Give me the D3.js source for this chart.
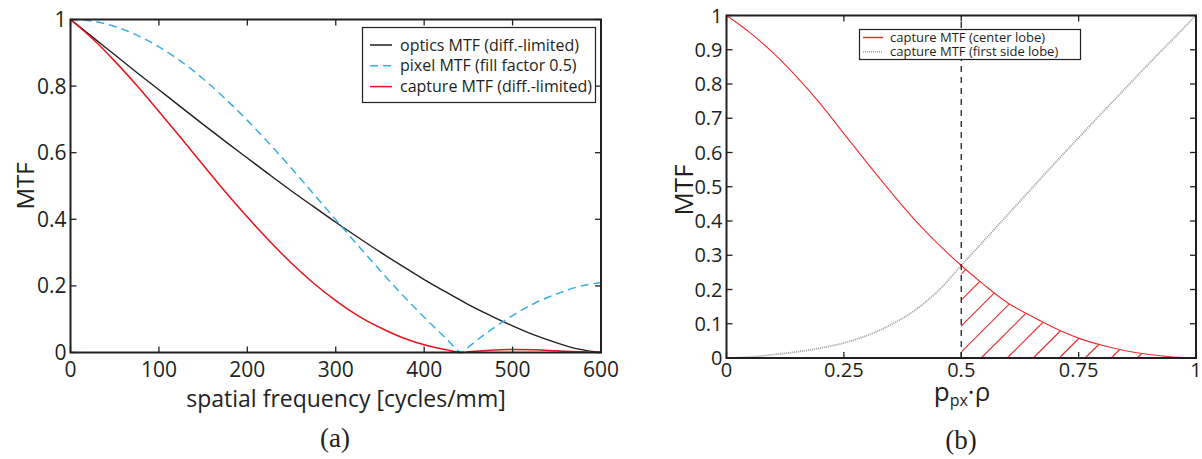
<!DOCTYPE html>
<html><head><meta charset="utf-8">
<script src="https://cdn.jsdelivr.net/npm/d3@7"></script>
<style>
body{margin:0;background:#fff}
svg{display:block}
text{font-family:"Open Sans",sans-serif;fill:#231f20}
</style>
</head><body>
<svg id="c" width="1202" height="459"></svg>
<script>
// ---------- panel (a) data ----------
const freqA = [0,25,50,75,100,125,150,175,200,225,250,275,300,325,350,375,400,425,443,450,475,500,525,550,575,600];
const opticsMTF = [1,0.947,0.894,0.841,0.789,0.737,0.685,0.634,0.584,0.534,0.485,0.438,0.391,0.346,0.302,0.260,0.219,0.181,0.154,0.144,0.111,0.080,0.052,0.029,0.010,0];
const pixelMTF = [1,0.995,0.979,0.953,0.918,0.874,0.822,0.762,0.697,0.627,0.553,0.476,0.399,0.322,0.247,0.174,0.106,0.042,0,0.016,0.067,0.111,0.148,0.176,0.198,0.210];
const captureMTF = [1,0.942,0.875,0.802,0.724,0.644,0.563,0.483,0.407,0.335,0.268,0.208,0.156,0.111,0.075,0.045,0.023,0.008,0,0.002,0.007,0.009,0.008,0.005,0.002,0];
const xTicksA = [0,100,200,300,400,500,600];
const yTicksA = [0,0.2,0.4,0.6,0.8,1];
const legendA = ["optics MTF (diff.-limited)","pixel MTF (fill factor 0.5)","capture MTF (diff.-limited)"];

// ---------- panel (b) data ----------
const uB = [0,0.05,0.1,0.15,0.2,0.25,0.3,0.35,0.4,0.45,0.5,0.55,0.6,0.65,0.7,0.75,0.8,0.85,0.9,0.95,1];
const centerLobe = [1,0.950,0.890,0.820,0.742,0.655,0.569,0.485,0.405,0.334,0.270,0.212,0.160,0.122,0.087,0.058,0.037,0.021,0.010,0.003,0];
const sideLobe = [0,0.003,0.010,0.018,0.029,0.044,0.066,0.097,0.138,0.195,0.270,0.345,0.420,0.495,0.570,0.643,0.716,0.788,0.860,0.930,1];
const xTicksB = [0,0.25,0.5,0.75,1];
const yTicksB = [0,0.1,0.2,0.3,0.4,0.5,0.6,0.7,0.8,0.9,1];
const legendB = ["capture MTF (center lobe)","capture MTF (first side lobe)"];
const cutoffB = 0.5;

const svg = d3.select("#c");
const INK = "#231f20";

function frame(g, x, y, xt, yt, xfmt, yfmt, fs, tl, xoff) {
  const [x0,x1] = x.range(), [y1,y0] = y.range();
  xt.forEach(v => {
    g.append("line").attr("x1",x(v)).attr("x2",x(v)).attr("y1",y1).attr("y2",y1-tl).attr("stroke",INK).attr("stroke-width",1.3);
    g.append("line").attr("x1",x(v)).attr("x2",x(v)).attr("y1",y0).attr("y2",y0+tl).attr("stroke",INK).attr("stroke-width",1.3);
  });
  yt.forEach(v => {
    g.append("line").attr("x1",x0).attr("x2",x0+tl).attr("y1",y(v)).attr("y2",y(v)).attr("stroke",INK).attr("stroke-width",1.3);
    g.append("line").attr("x1",x1).attr("x2",x1-tl).attr("y1",y(v)).attr("y2",y(v)).attr("stroke",INK).attr("stroke-width",1.3);
  });
  g.append("rect").attr("x",x0).attr("y",y0).attr("width",x1-x0).attr("height",y1-y0)
    .attr("fill","none").attr("stroke",INK).attr("stroke-width",2);
  g.selectAll(null).data(xt).enter().append("text")
    .attr("x",d=>x(d)).attr("y",y1+xoff).attr("text-anchor","middle").attr("font-size",fs).text(xfmt);
  g.selectAll(null).data(yt).enter().append("text")
    .attr("x",x0-4).attr("y",d=>y(d)+fs*0.36).attr("text-anchor","end").attr("font-size",fs).text(yfmt);
}
const fmt = d => String(d);

// ---------- panel (a) ----------
const gA = svg.append("g");
const xA = d3.scaleLinear().domain([0,600]).range([70.5,601]);
const yA = d3.scaleLinear().domain([0,1]).range([352.5,19.5]);
const lineA = vals => d3.line().x((d,i)=>xA(freqA[i])).y(d=>yA(d)).curve(d3.curveMonotoneX)(vals);

gA.append("path").attr("d",lineA(opticsMTF)).attr("fill","none").attr("stroke","#231f20").attr("stroke-width",1.4);
gA.append("path").attr("d",lineA(pixelMTF)).attr("fill","none").attr("stroke","#3aaee6").attr("stroke-width",1.5).attr("stroke-dasharray","8,5");
gA.append("path").attr("d",lineA(captureMTF)).attr("fill","none").attr("stroke","#e8141c").attr("stroke-width",1.5);
frame(gA, xA, yA, xTicksA, yTicksA, fmt, fmt, 21, 6, 24);

gA.append("text").attr("transform","translate(34,186) rotate(-90)").attr("text-anchor","middle").attr("font-size",24).text("MTF");
gA.append("text").attr("x",346).attr("y",407).attr("text-anchor","middle").attr("font-size",23).text("spatial frequency [cycles/mm]");
gA.append("text").attr("x",335).attr("y",447).attr("text-anchor","middle").attr("font-size",27)
  .style("font-family","'Liberation Serif',serif").text("(a)");

// legend (a)
const legA = gA.append("g");
legA.append("rect").attr("x",362.5).attr("y",27.5).attr("width",233).attr("height",75).attr("fill","#fff").attr("stroke",INK).attr("stroke-width",1.2);
const styA = [{c:"#231f20",d:null},{c:"#3aaee6",d:"8,5"},{c:"#e8141c",d:null}];
legendA.forEach((t,i)=>{
  const yy = 45 + i*20.8;
  legA.append("line").attr("x1",370).attr("x2",392).attr("y1",yy).attr("y2",yy).attr("stroke",styA[i].c).attr("stroke-width",1.5).attr("stroke-dasharray",styA[i].d);
  legA.append("text").attr("x",400).attr("y",yy+5.5).attr("font-size",16).text(t);
});

// ---------- panel (b) ----------
const gB = svg.append("g");
const xB = d3.scaleLinear().domain([0,1]).range([726.5,1196]);
const yB = d3.scaleLinear().domain([0,1]).range([358,15.5]);
const lineB = vals => d3.line().x((d,i)=>xB(uB[i])).y(d=>yB(d)).curve(d3.curveMonotoneX)(vals);

// hatched area under the center lobe beyond the cutoff
const hatchPts = uB.map((u,i)=>({u,v:centerLobe[i]})).filter(d=>d.u>=cutoffB);
const areaB = d3.area().x(d=>xB(d.u)).y0(yB(0)).y1(d=>yB(d.v)).curve(d3.curveMonotoneX);
svg.append("defs").append("clipPath").attr("id","hclip").append("path").attr("d",areaB(hatchPts));
const hg = gB.append("g").attr("clip-path","url(#hclip)");
const bottom = yB(0);
d3.range(xB(cutoffB)-130, xB(1)+10, 26).map(v=>v+20).forEach(xb=>{
  hg.append("line").attr("x1",xb).attr("y1",bottom).attr("x2",xb+200).attr("y2",bottom-200)
    .attr("stroke","#ee2a2a").attr("stroke-width",1.2);
});

gB.append("path").attr("d",lineB(sideLobe)).attr("fill","none").attr("stroke","#9a9a9a").attr("stroke-width",1.8).attr("stroke-dasharray","1,1");
gB.append("path").attr("d",lineB(centerLobe)).attr("fill","none").attr("stroke","#ef2b2b").attr("stroke-width",1.1);
gB.append("line").attr("x1",xB(cutoffB)).attr("x2",xB(cutoffB)).attr("y1",yB(0)).attr("y2",yB(1))
  .attr("stroke",INK).attr("stroke-width",1.3).attr("stroke-dasharray","6,5");
frame(gB, xB, yB, xTicksB, yTicksB, fmt, fmt, 20, 6, 19);

gB.append("text").attr("transform","translate(693,190) rotate(-90)").attr("text-anchor","middle").attr("font-size",26).text("MTF");
const xl = gB.append("text").attr("x",962).attr("y",401).attr("text-anchor","middle").attr("font-size",26);
xl.append("tspan").text("p");
xl.append("tspan").attr("font-size",16).attr("dy",5).text("px");
xl.append("tspan").attr("dy",-5).text("·ρ");
gB.append("text").attr("x",961).attr("y",449).attr("text-anchor","middle").attr("font-size",27)
  .style("font-family","'Liberation Serif',serif").text("(b)");

// legend (b)
const legB = gB.append("g");
legB.append("rect").attr("x",859.5).attr("y",29.5).attr("width",221).attr("height",30).attr("fill","#fff").attr("stroke",INK).attr("stroke-width",1.2);
const styB = [{c:"#ef2b2b",d:null,w:1.5},{c:"#9a9a9a",d:"1,1",w:1.5}];
legendB.forEach((t,i)=>{
  const yy = 37.5 + i*14.3;
  legB.append("line").attr("x1",863).attr("x2",883).attr("y1",yy).attr("y2",yy).attr("stroke",styB[i].c).attr("stroke-width",styB[i].w).attr("stroke-dasharray",styB[i].d);
  legB.append("text").attr("x",890).attr("y",yy+4.5).attr("font-size",13).text(t);
});
</script>
</body></html>
